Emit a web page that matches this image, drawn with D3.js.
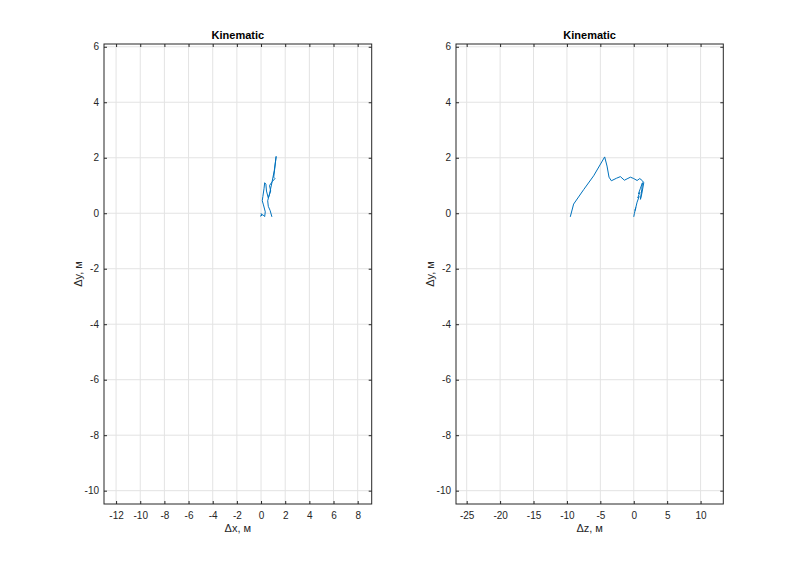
<!DOCTYPE html>
<html><head><meta charset="utf-8">
<script src="https://cdn.jsdelivr.net/npm/d3@7"></script>
<style>
body{margin:0;background:#fff;}
text{font-family:"Liberation Sans",Arial,Helvetica,sans-serif;}
</style></head>
<body><svg id="c" width="800" height="568"></svg>
<script>
// ---- data ----
const yTicks = [-10,-8,-6,-4,-2,0,2,4,6];
const xTicksLeft = [-12,-10,-8,-6,-4,-2,0,2,4,6,8];
const xTicksRight = [-25,-20,-15,-10,-5,0,5,10];
const titleText = "Kinematic";
const xLabelLeft = "\u0394x, \u043c";
const xLabelRight = "\u0394z, \u043c";
const yLabel = "\u0394y, \u043c";
// left trajectory (Δx, Δy)
const leftX = [0.0,0.05,-0.05,0.15,0.3,0.35,0.2,0.1,0.15,0.25,0.3,0.4,0.45,0.6,0.8,0.7,0.95,1.15,1.05,1.25,1.1,0.9,0.7,0.55,0.6,0.75,0.9];
const leftY = [0.0,-0.08,-0.1,-0.05,-0.12,0.05,0.3,0.45,0.6,0.9,1.1,1.05,0.8,0.55,0.8,1.0,1.15,1.25,1.3,2.05,1.55,1.1,0.7,0.45,0.25,0.1,-0.13];
// right trajectory (Δz, Δy)
const rightZ = [0.0,0.1,0.3,0.2,0.5,0.8,0.6,0.9,0.7,1.0,1.3,1.2,1.0,1.2,1.5,1.3,0.9,0.5,0.0,-0.5,-1.0,-1.4,-2.0,-2.6,-3.35,-3.7,-4.0,-4.35,-6.0,-7.5,-9.0,-9.5];
const rightY = [-0.13,0.0,0.2,0.1,0.4,0.6,0.55,0.75,0.7,0.9,1.1,0.85,0.5,0.7,1.1,1.17,1.25,1.18,1.25,1.3,1.24,1.19,1.32,1.26,1.17,1.3,1.7,2.03,1.35,0.85,0.33,-0.13];

const svg = d3.select("#c");
const ink = "#262626";
const blue = "#0072BD";
const yDomain = [-10.48, 6.1];

function panel(x0, x1, xDomain, xTicks, xs, ys, xLabel) {
  const top = 44, bottom = 504;
  const x = d3.scaleLinear().domain(xDomain).range([x0, x1]);
  const y = d3.scaleLinear().domain(yDomain).range([bottom, top]);
  const g = svg.append("g");
  // grid
  g.selectAll(".gx").data(xTicks).join("line")
    .attr("x1", d => x(d)).attr("x2", d => x(d)).attr("y1", top).attr("y2", bottom)
    .attr("stroke", "#e3e3e3").attr("stroke-width", 1);
  g.selectAll(".gy").data(yTicks).join("line")
    .attr("x1", x0).attr("x2", x1).attr("y1", d => y(d)).attr("y2", d => y(d))
    .attr("stroke", "#e3e3e3").attr("stroke-width", 1);
  // data
  const line = d3.line().x(d => x(d[0])).y(d => y(d[1]));
  g.append("path").datum(xs.map((v, i) => [v, ys[i]]))
    .attr("d", line).attr("fill", "none").attr("stroke", blue).attr("stroke-width", 1);
  // axes (ticks inside)
  const tl = 3;
  const fmt = d => String(d);
  const bx = d3.axisBottom(x).tickValues(xTicks).tickSizeInner(-tl).tickSizeOuter(0).tickPadding(8).tickFormat(fmt);
  const tx = d3.axisTop(x).tickValues(xTicks).tickSizeInner(-tl).tickSizeOuter(0).tickFormat("");
  const ly = d3.axisLeft(y).tickValues(yTicks).tickSizeInner(-tl).tickSizeOuter(0).tickPadding(5).tickFormat(fmt);
  const ry = d3.axisRight(y).tickValues(yTicks).tickSizeInner(-tl).tickSizeOuter(0).tickFormat("");
  const style = a => {
    a.select(".domain").remove();
    a.selectAll("line").attr("stroke", ink);
    a.selectAll("text").attr("fill", ink).style("font-size", "10px");
  };
  g.append("g").attr("transform", `translate(0,${bottom})`).call(bx).call(style);
  g.append("g").attr("transform", `translate(0,${top})`).call(tx).call(style);
  g.append("g").attr("transform", `translate(${x0},0)`).call(ly).call(style);
  g.append("g").attr("transform", `translate(${x1},0)`).call(ry).call(style);
  g.append("rect").attr("x", x0).attr("y", top).attr("width", x1 - x0).attr("height", bottom - top)
    .attr("fill", "none").attr("stroke", ink).attr("stroke-width", 1);
  // labels
  g.append("text").attr("x", (x0 + x1) / 2).attr("y", 39).attr("text-anchor", "middle")
    .style("font-size", "11px").style("font-weight", "bold").attr("fill", "#000").text(titleText);
  g.append("text").attr("x", (x0 + x1) / 2).attr("y", 532).attr("text-anchor", "middle")
    .style("font-size", "11px").attr("fill", ink).text(xLabel);
  g.append("text").attr("transform", `translate(${x0 - 22},${(top + bottom) / 2}) rotate(-90)`)
    .attr("text-anchor", "middle").style("font-size", "11px").attr("fill", ink).text(yLabel);
}

panel(104, 371.7, [-13.0, 9.16], xTicksLeft, leftX, leftY, xLabelLeft);
panel(456, 723.3, [-26.6, 13.4], xTicksRight, rightZ, rightY, xLabelRight);
</script></body></html>
